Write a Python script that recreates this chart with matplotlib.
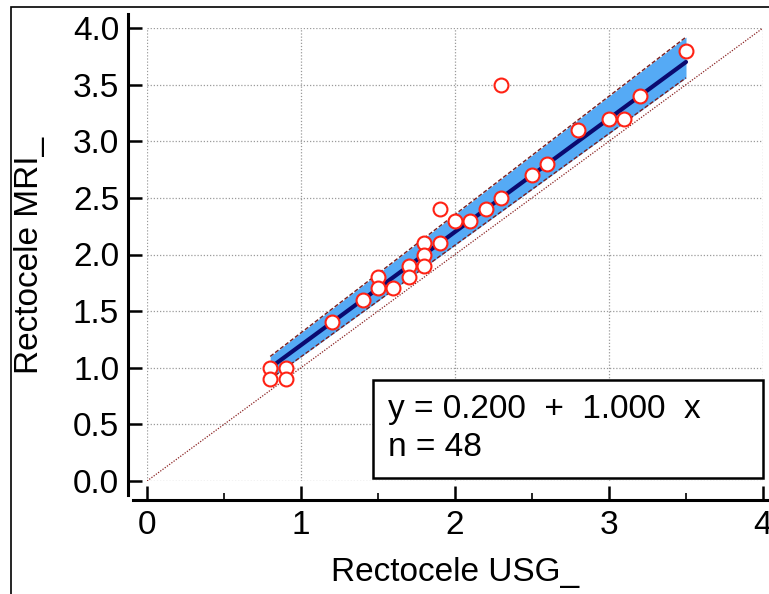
import matplotlib
matplotlib.use("Agg")
import matplotlib.pyplot as plt
from matplotlib.patches import Rectangle
import numpy as np

plt.rcParams["font.family"] = ["Liberation Sans", "DejaVu Sans"]

# observed pairs (visible points; duplicates overlap)
usg = [0.8, 0.8, 0.9, 0.9, 1.2, 1.4, 1.5, 1.5, 1.6, 1.7, 1.7, 1.8, 1.8, 1.8,
       1.9, 1.9, 2.0, 2.1, 2.2, 2.3, 2.3, 2.5, 2.6, 2.8, 3.0, 3.1, 3.2, 3.5]
mri = [1.0, 0.9, 1.0, 0.9, 1.4, 1.6, 1.8, 1.7, 1.7, 1.9, 1.8, 2.1, 2.0, 1.9,
       2.4, 2.1, 2.3, 2.3, 2.4, 2.5, 3.5, 2.7, 2.8, 3.1, 3.2, 3.2, 3.4, 3.8]

intercept = 0.200
slope = 1.000
n_obs = 48

# confidence band end points
band_x = [0.8, 3.5]
band_lo = [0.90, 3.56]
band_hi = [1.10, 3.92]

x_ticks = [0, 1, 2, 3, 4]
y_ticks = [0.0, 0.5, 1.0, 1.5, 2.0, 2.5, 3.0, 3.5, 4.0]

FS = 24

fig = plt.figure(figsize=(7.69, 5.94), dpi=100)
ax = fig.add_axes([147 / 769, 1 - 481 / 594, 616 / 769, 453 / 594])

# outer frame (image is cropped at right/bottom)
fig.patches.append(Rectangle((10.5 / 769, -0.1), 1.2, 1 - 7 / 594 + 0.1,
                             transform=fig.transFigure, fill=False,
                             lw=1.2, ec="black"))

ax.fill_between(band_x, band_lo, band_hi, color="#55aaf5", lw=0, zorder=2)
ax.plot(band_x, band_lo, ls=(0, (3, 1.5)), color="#7a1f1f", lw=1.0, zorder=3)
ax.plot(band_x, band_hi, ls=(0, (3, 1.5)), color="#7a1f1f", lw=1.0, zorder=3)
ax.plot([0, 4], [0, 4], ls=(0, (1, 1.2)), color="#8b2323", lw=0.9, zorder=2)

xr = np.array([min(usg), max(usg)])
ax.plot(xr, intercept + slope * xr, color="#0a0a70", lw=3.0,
        solid_capstyle="round", zorder=4)

ax.plot(usg, mri, "o", ms=10, mfc="white", mec="#ff2214", mew=1.5,
        zorder=5, clip_on=False)

ax.set_xlim(0, 4)
ax.set_ylim(0, 4)
ax.set_xticks(x_ticks)
ax.set_xticks([0.5, 1.5, 2.5, 3.5], minor=True)
ax.set_yticks(y_ticks)
ax.set_yticklabels([f"{v:.1f}" for v in y_ticks])
ax.grid(True, which="major", ls=(0, (1, 1.5)), color="#9a9a9a", lw=0.9)
ax.set_axisbelow(True)

for s in ["top", "right"]:
    ax.spines[s].set_visible(False)
for s in ["left", "bottom"]:
    ax.spines[s].set_position(("outward", 14))
    ax.spines[s].set_linewidth(2.2)
ax.spines["left"].set_bounds(-0.124, 4.124)
ax.spines["bottom"].set_bounds(-0.091, 4.2)

ax.tick_params(axis="both", which="major", direction="in", length=10,
               width=1.8, labelsize=FS)
ax.tick_params(axis="x", which="minor", direction="in", length=5, width=1.2)
ax.tick_params(axis="y", which="major", pad=6)
ax.tick_params(axis="x", which="major", pad=7)

ax.set_xlabel("Rectocele USG_", fontsize=FS, va="center")
ax.xaxis.set_label_coords(0.5, -0.201)
ax.set_ylabel("Rectocele MRI_", fontsize=FS, va="center")
ax.yaxis.set_label_coords(-0.19, 0.499)

ax.add_patch(Rectangle((0.367, 0.0066), 0.633, 0.2164, transform=ax.transAxes,
                       fc="white", ec="black", lw=1.8, zorder=6,
                       clip_on=False))
ax.text(0.391, 0.157, f"y = {intercept:.3f}  +  {slope:.3f}  x",
        transform=ax.transAxes, fontsize=FS, va="center", zorder=7)
ax.text(0.391, 0.075, f"n = {n_obs}", transform=ax.transAxes,
        fontsize=FS, va="center", zorder=7)

fig.savefig("out.png", dpi=100)
